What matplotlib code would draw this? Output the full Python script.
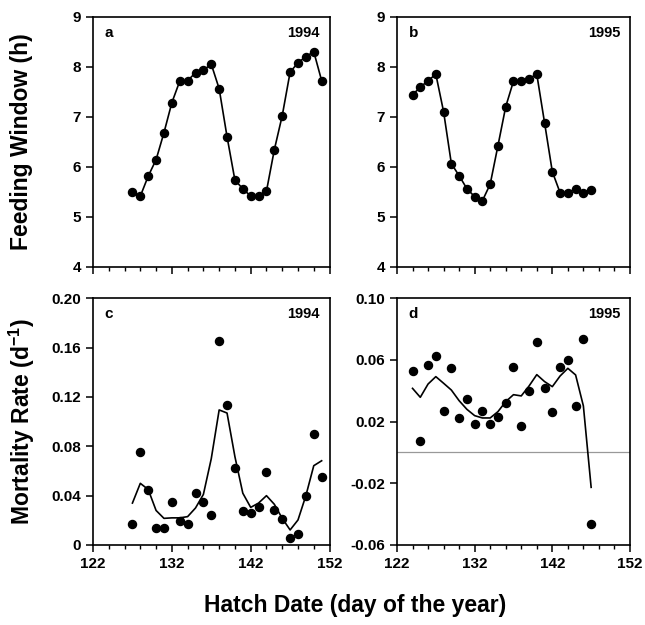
import matplotlib
matplotlib.use("Agg")
import matplotlib.pyplot as plt
from matplotlib.ticker import MultipleLocator, FixedLocator, FixedFormatter

plt.rcParams['font.family'] = ['Liberation Sans', 'DejaVu Sans']
plt.rcParams['font.weight'] = 'bold'
plt.rcParams['mathtext.fontset'] = 'custom'
plt.rcParams['mathtext.rm'] = 'Liberation Sans:bold'
plt.rcParams['mathtext.it'] = 'Liberation Sans:bold'
plt.rcParams['mathtext.bf'] = 'Liberation Sans:bold'

# Data
days_94 = list(range(127, 152))
feed_94 = [5.49, 5.41, 5.81, 6.14, 6.68, 7.28, 7.71, 7.72, 7.88, 7.93, 8.05, 7.56, 6.60,
           5.73, 5.56, 5.41, 5.41, 5.51, 6.34, 7.02, 7.89, 8.08, 8.20, 8.30, 7.72]
mort_94 = [0.0173, 0.0757, 0.0446, 0.0141, 0.0141, 0.0349, 0.0197, 0.0173, 0.0422, 0.0349,
           0.0243, 0.1654, 0.1132, 0.0622, 0.0276, 0.0262, 0.0308, 0.0589, 0.0284, 0.0211,
           0.0054, 0.0089, 0.0397, 0.0900, 0.0554]
smooth_94 = [0.034, 0.050, 0.045, 0.028, 0.0216, 0.022, 0.022, 0.023, 0.030, 0.041,
             0.070, 0.1095, 0.107, 0.0716, 0.042, 0.0305, 0.034, 0.040, 0.033, 0.0216,
             0.0122, 0.0203, 0.040, 0.0643, 0.0683]

days_95 = list(range(124, 148))
feed_95 = [7.44, 7.59, 7.72, 7.85, 7.10, 6.06, 5.82, 5.56, 5.40, 5.32, 5.65, 6.42,
           7.20, 7.71, 7.72, 7.76, 7.85, 6.88, 5.90, 5.48, 5.48, 5.56, 5.48, 5.54]
mort_95 = [0.0531, 0.0075, 0.0570, 0.0626, 0.0267, 0.0550, 0.0222, 0.0345, 0.0183, 0.0267,
           0.0187, 0.0228, 0.0319, 0.0557, 0.0170, 0.0397, 0.0717, 0.0420, 0.0260, 0.0557,
           0.0600, 0.0302, 0.0736, -0.0466]
smooth_95 = [0.0416, 0.0358, 0.0444, 0.0492, 0.0449, 0.0405, 0.0336, 0.0280, 0.0239, 0.0224,
             0.0224, 0.0265, 0.0330, 0.0375, 0.0367, 0.0431, 0.0505, 0.0460, 0.0427, 0.0496,
             0.0546, 0.0503, 0.0302, -0.0226]

x_ticks = [122, 132, 142, 152]
feed_ticks = [4, 5, 6, 7, 8, 9]
mort94_ticks = [0, 0.04, 0.08, 0.12, 0.16, 0.20]
mort94_labels = ['0', '0.04', '0.08', '0.12', '0.16', '0.20']
mort95_ticks = [-0.06, -0.02, 0.02, 0.06, 0.10]
mort95_labels = ['-0.06', '-0.02', '0.02', '0.06', '0.10']

fig = plt.figure(figsize=(6.45, 6.25), dpi=100)
ax_a = fig.add_axes([0.1442, 0.5733, 0.3667, 0.4000])
ax_b = fig.add_axes([0.6155, 0.5733, 0.3612, 0.4000])
ax_c = fig.add_axes([0.1442, 0.1280, 0.3667, 0.3947])
ax_d = fig.add_axes([0.6155, 0.1280, 0.3612, 0.3947])

MS = 5.8


def style(ax, letter, year, show_x):
    ax.set_xlim(122, 152)
    ax.xaxis.set_major_locator(FixedLocator(x_ticks))
    ax.xaxis.set_minor_locator(MultipleLocator(2))
    ax.tick_params(axis='both', which='major', direction='out', length=5, width=1.1,
                   labelsize=11, top=False, right=False)
    ax.tick_params(axis='x', which='minor', direction='out', length=3, width=1.0)
    if not show_x:
        ax.set_xticklabels([])
    for sp in ax.spines.values():
        sp.set_linewidth(1.2)
    for lab in ax.get_xticklabels() + ax.get_yticklabels():
        lab.set_fontweight('bold')
    ax.text(0.05, 0.935, letter, transform=ax.transAxes, fontsize=11, fontweight='bold',
            ha='left', va='center')
    ax.text(0.96, 0.935, year, transform=ax.transAxes, fontsize=10.5, fontweight='bold',
            ha='right', va='center')


# feeding window panels
ax_a.plot(days_94, feed_94, color='black', lw=1.2, marker='o', ms=MS)
ax_a.set_ylim(4, 9)
ax_a.set_yticks(feed_ticks)
style(ax_a, 'a', '1994', False)

ax_b.plot(days_95, feed_95, color='black', lw=1.2, marker='o', ms=MS)
ax_b.set_ylim(4, 9)
ax_b.set_yticks(feed_ticks)
style(ax_b, 'b', '1995', False)

# mortality panels
ax_c.plot(days_94, smooth_94, color='black', lw=1.2)
ax_c.plot(days_94, mort_94, 'o', color='black', ms=MS)
ax_c.set_ylim(0, 0.20)
ax_c.yaxis.set_major_locator(FixedLocator(mort94_ticks))
ax_c.yaxis.set_major_formatter(FixedFormatter(mort94_labels))
style(ax_c, 'c', '1994', True)

ax_d.axhline(0, color='0.6', lw=0.9)
ax_d.plot(days_95, smooth_95, color='black', lw=1.2)
ax_d.plot(days_95, mort_95, 'o', color='black', ms=MS)
ax_d.set_ylim(-0.06, 0.10)
ax_d.yaxis.set_major_locator(FixedLocator(mort95_ticks))
ax_d.yaxis.set_major_formatter(FixedFormatter(mort95_labels))
style(ax_d, 'd', '1995', True)

fig.text(0.034, 0.7733, 'Feeding Window (h)', rotation=90, ha='center', va='center',
         fontsize=16.5, fontweight='bold')
fig.text(0.034, 0.3253, r'Mortality Rate (d$^{-1}$)', rotation=90, ha='center', va='center',
         fontsize=16.5, fontweight='bold')
fig.text(0.55, 0.031, 'Hatch Date (day of the year)', ha='center', va='center',
         fontsize=16.5, fontweight='bold')

fig.savefig('out.png', dpi=100)
